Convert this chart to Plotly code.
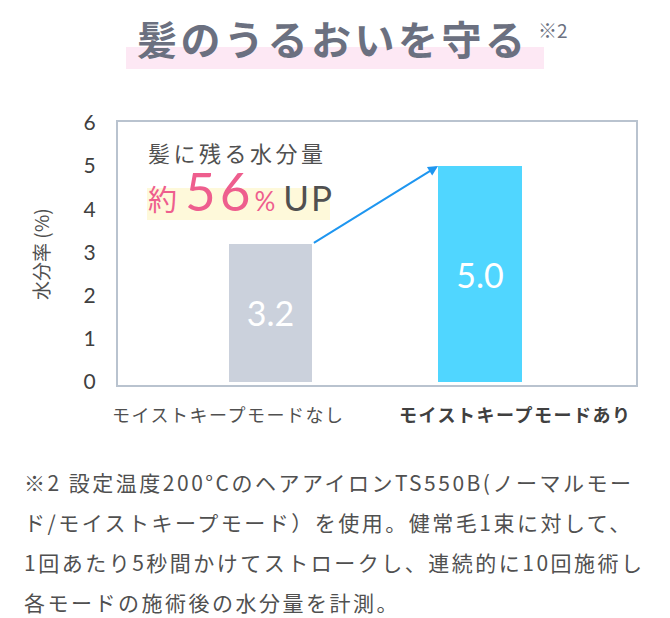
import plotly.graph_objects as go

categories = ["モイストキープモードなし", "モイストキープモードあり"]
values = [3.2, 5.0]
bar_colors = ["#CBD1DC", "#50D6FF"]
y_ticks = [0, 1, 2, 3, 4, 5, 6]
title_text = "髪のうるおいを守る"
note_mark = "※2"
y_title = "水分率 (%)"
callout_1 = "髪に残る水分量"
footnote_lines = [
    "※2 設定温度200°CのヘアアイロンTS550B(ノーマルモー",
    "ド/モイストキープモード）を使用。健常毛1束に対して、",
    "1回あたり5秒間かけてストロークし、連続的に10回施術し",
    "各モードの施術後の水分量を計測。",
]

W, H = 670, 618
L, R, T, B = 118, 636, 122, 385
FONT = "Noto Sans CJK JP"
GRAY = "#505050"

def px(x):
    return (x - L) / (R - L)

def py(y):
    return (B - y) / (B - T)

def ls(text, sp):
    return "<span style='letter-spacing:%spx'>%s</span>" % (sp, text)

xpos = [0, 1]
bw = 0.40

fig = go.Figure()
fig.add_trace(go.Bar(
    x=xpos, y=values, width=bw,
    marker=dict(color=bar_colors, line=dict(width=0)),
    texttemplate="%{y:.1f}", textposition="inside", insidetextanchor="middle",
    textfont=dict(color="white", size=34, family="Lato"),
    hoverinfo="skip",
))

ann = []
# title
ann.append(dict(text="<b>" + ls(title_text, 3.5) + "</b>", x=px(333), y=py(38), xref="paper", yref="paper",
                xanchor="center", yanchor="middle", showarrow=False,
                font=dict(size=40, color="#6B7080", family=FONT)))
ann.append(dict(text=note_mark, x=px(536), y=py(30), xref="paper", yref="paper",
                xanchor="left", yanchor="middle", showarrow=False,
                font=dict(size=19, color="#6B7080", family=FONT)))
# y title
ann.append(dict(text=y_title, x=px(40), y=py(254), xref="paper", yref="paper", textangle=-90,
                xanchor="center", yanchor="middle", showarrow=False,
                font=dict(size=19, color=GRAY, family=FONT)))
# callout
ann.append(dict(text=ls(callout_1, 3.5), x=px(146), y=py(152), xref="paper", yref="paper",
                xanchor="left", yanchor="middle", showarrow=False,
                font=dict(size=22, color=GRAY, family=FONT)))
pink = "#EE5E8E"
big = ("<span style='font-size:29px;color:%s;letter-spacing:8px'>約</span>"
       "<span style='font-size:53px;color:%s;font-family:Lato;letter-spacing:4px'>56</span>"
       "<span style='font-size:26px;color:%s;font-family:Lato;letter-spacing:8px'>%%</span>"
       "<span style='font-size:35px;color:%s;font-family:Lato;letter-spacing:2px'>UP</span>") % (pink, pink, pink, GRAY)
ann.append(dict(text=big, x=px(146), y=py(190), xref="paper", yref="paper",
                xanchor="left", yanchor="middle", showarrow=False,
                font=dict(size=22, color=GRAY, family=FONT)))
# arrow between bar tops
ann.append(dict(x=xpos[1] - bw / 2, y=values[1], ax=xpos[0] + bw / 2, ay=values[0],
                xref="x", yref="y", axref="x", ayref="y", text="", showarrow=True,
                arrowhead=2, arrowsize=1.0, arrowwidth=2, arrowcolor="#1E96F0"))
# category labels
ann.append(dict(text=ls(categories[0], 1.5), x=px(228), y=py(414), xref="paper", yref="paper",
                xanchor="center", yanchor="middle", showarrow=False,
                font=dict(size=18, color=GRAY, family=FONT)))
ann.append(dict(text="<b>" + ls(categories[1], 1.5) + "</b>", x=px(515), y=py(414), xref="paper", yref="paper",
                xanchor="center", yanchor="middle", showarrow=False,
                font=dict(size=18, color="#404040", family=FONT)))
# footnote
for i, line in enumerate(footnote_lines):
    ann.append(dict(text=ls(line, 2.5), x=px(22), y=py(482 + 40 * i), xref="paper", yref="paper",
                    xanchor="left", yanchor="middle", showarrow=False,
                    font=dict(size=21, color=GRAY, family=FONT)))

shapes = [
    dict(type="rect", xref="paper", yref="paper", x0=px(126), x1=px(544), y0=py(69), y1=py(47),
         fillcolor="#FDE8F4", line=dict(width=0), layer="below"),
    dict(type="rect", xref="paper", yref="paper", x0=px(147), x1=px(330), y0=py(220), y1=py(188),
         fillcolor="#FEF9DA", line=dict(width=0), layer="below"),
]

fig.update_layout(
    width=W, height=H, autosize=False,
    margin=dict(l=L, r=W - R, t=T, b=H - B, pad=0),
    paper_bgcolor="white", plot_bgcolor="white",
    showlegend=False, bargap=0,
    annotations=ann, shapes=shapes,
    font=dict(family=FONT, color=GRAY),
    xaxis=dict(range=[-0.728, 1.745], showticklabels=False, ticks="", showgrid=False, zeroline=False,
               showline=True, linecolor="#B9C3CF", linewidth=2, mirror=True, fixedrange=True),
    yaxis=dict(range=[-0.07, 6.02], tickvals=y_ticks, showgrid=False, zeroline=False,
               showline=True, linecolor="#B9C3CF", linewidth=2, mirror=True,
               ticks="outside", ticklen=16, tickcolor="rgba(0,0,0,0)",
               tickfont=dict(size=21, color="#404040", family="Lato"), fixedrange=True),
)

fig.write_html("out.html", config={"displayModeBar": False, "staticPlot": True},
               post_script="document.body.style.margin='0px';document.body.style.overflow='hidden';")
